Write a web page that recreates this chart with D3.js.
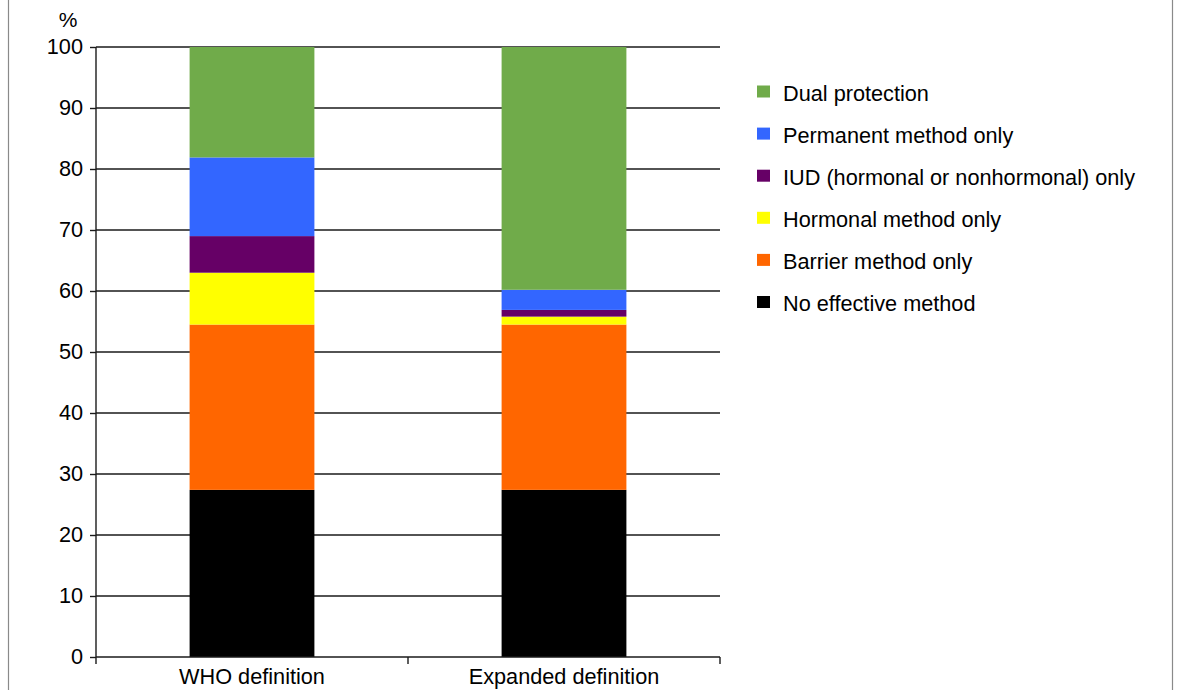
<!DOCTYPE html>
<html>
<head>
<meta charset="utf-8">
<script src="https://cdn.jsdelivr.net/npm/d3@7"></script>
<style>
  body { margin: 0; background: #fff; }
  svg { display: block; font-family: "Liberation Sans", Arial, sans-serif; }
</style>
</head>
<body>
<div id="chart"></div>
<script>
// Data
var categories = ["WHO definition", "Expanded definition"];
var methods = ["No effective method", "Barrier method only", "Hormonal method only",
               "IUD (hormonal or nonhormonal) only", "Permanent method only", "Dual protection"];
var colors = ["#000000", "#ff6600", "#ffff00", "#660066", "#3366ff", "#70ab4a"];
// percent per method, one array per category (bottom to top)
var whoValues = [27.4, 27.1, 8.5, 6.0, 12.9, 18.1];
var expandedValues = [27.4, 27.1, 1.3, 1.1, 3.3, 39.8];
var yTicks = [0, 10, 20, 30, 40, 50, 60, 70, 80, 90, 100];

// Setup
var width = 1179, height = 690;
var plot = {left: 96, right: 720, top: 47, bottom: 657};
var fontSize = 21.7;

var svg = d3.select("#chart").append("svg")
    .attr("width", width)
    .attr("height", height);

// frame lines at the sides
svg.append("line").attr("x1", 8.5).attr("x2", 8.5).attr("y1", 0).attr("y2", height)
    .attr("stroke", "#8a8a8a").attr("stroke-width", 1.2);
svg.append("line").attr("x1", 1172.5).attr("x2", 1172.5).attr("y1", 0).attr("y2", height)
    .attr("stroke", "#8a8a8a").attr("stroke-width", 1.2);

// Scales
var scaleX = d3.scaleBand()
    .domain(categories)
    .range([plot.left, plot.right])
    .paddingInner(0.6)
    .paddingOuter(0.3);

var scaleY = d3.scaleLinear()
    .domain([0, 100])
    .range([plot.bottom, plot.top]);

// gridlines
svg.append("g").selectAll("line.grid")
    .data(yTicks.filter(function(d) { return d > 0; }))
    .enter().append("line")
    .attr("class", "grid")
    .attr("x1", plot.left).attr("x2", plot.right)
    .attr("y1", function(d) { return scaleY(d); })
    .attr("y2", function(d) { return scaleY(d); })
    .attr("stroke", "#1a1a1a")
    .attr("stroke-width", 1.4);

// stacked bars
var rows = categories.map(function(c, i) {
    var vals = i === 0 ? whoValues : expandedValues;
    var row = {category: c};
    methods.forEach(function(m, j) { row[m] = vals[j]; });
    return row;
});
var stack = d3.stack().keys(methods)(rows);

svg.append("g").selectAll("g.layer")
    .data(stack).enter().append("g")
    .attr("class", "layer")
    .attr("fill", function(d, i) { return colors[i]; })
    .selectAll("rect")
    .data(function(d) { return d; })
    .enter().append("rect")
    .attr("x", function(d) { return scaleX(d.data.category); })
    .attr("width", scaleX.bandwidth())
    .attr("y", function(d) { return scaleY(d[1]); })
    .attr("height", function(d) { return scaleY(d[0]) - scaleY(d[1]); });

// y axis
var axisY = d3.axisLeft(scaleY)
    .tickValues(yTicks)
    .tickSize(6)
    .tickPadding(7);

var gy = svg.append("g")
    .attr("transform", "translate(" + plot.left + ",0)")
    .call(axisY);
gy.select(".domain").attr("stroke", "#1a1a1a").attr("stroke-width", 1.4)
    .attr("d", "M0," + plot.top + "V" + plot.bottom);
gy.selectAll(".tick line").attr("stroke", "#1a1a1a").attr("stroke-width", 1.4);
gy.selectAll(".tick text").attr("font-size", fontSize).attr("fill", "#000")
    .attr("font-family", "Liberation Sans, Arial, sans-serif");

// x axis with ticks at band edges
var edges = [plot.left].concat(categories.map(function(c) {
    return scaleX(c) + scaleX.bandwidth() / 2 + scaleX.step() / 2;
}));
var gx = svg.append("g");
gx.append("line")
    .attr("x1", plot.left).attr("x2", plot.right)
    .attr("y1", plot.bottom).attr("y2", plot.bottom)
    .attr("stroke", "#1a1a1a").attr("stroke-width", 1.4);
gx.selectAll("line.xtick").data(edges).enter().append("line")
    .attr("class", "xtick")
    .attr("x1", function(d) { return d; }).attr("x2", function(d) { return d; })
    .attr("y1", plot.bottom).attr("y2", plot.bottom + 7)
    .attr("stroke", "#1a1a1a").attr("stroke-width", 1.4);
gx.selectAll("text").data(categories).enter().append("text")
    .attr("x", function(d) { return scaleX(d) + scaleX.bandwidth() / 2; })
    .attr("y", 684)
    .attr("text-anchor", "middle")
    .attr("font-size", fontSize)
    .attr("fill", "#000")
    .text(function(d) { return d; });

// unit label
svg.append("text")
    .attr("x", 68).attr("y", 27)
    .attr("text-anchor", "middle")
    .attr("font-size", 21)
    .attr("fill", "#000")
    .text("%");

// legend (top to bottom = stack top to bottom)
var legendItems = methods.slice().reverse();
var legendColors = colors.slice().reverse();
var legend = svg.append("g").selectAll("g.legend")
    .data(legendItems).enter().append("g")
    .attr("class", "legend")
    .attr("transform", function(d, i) { return "translate(757," + (92.5 + i * 42.1) + ")"; });
legend.append("rect")
    .attr("x", 0).attr("y", -7).attr("width", 13).attr("height", 12)
    .attr("fill", function(d, i) { return legendColors[i]; });
legend.append("text")
    .attr("x", 26).attr("y", 8)
    .attr("font-size", fontSize)
    .attr("fill", "#000")
    .text(function(d) { return d; });
</script>
</body>
</html>
